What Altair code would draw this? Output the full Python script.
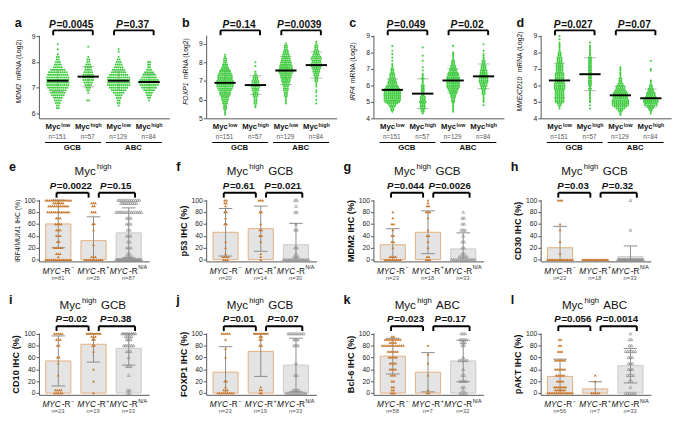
import altair as alt
import pandas as pd

FONT = "Liberation Sans, Arial, Helvetica, sans-serif"
GREEN = "#3ccc3c"
ORANGE = "#c8782d"
BAR_FILL = "#e4e4e4"
EDGE_MYC = "#e6ad78"
EDGE_NA = "#c9c9c9"
OPEN_GRAY = "#8f8f8f"
ERR_C = "#8a8a8a"
SD_C = "#b5b5b5"
AXIS_C = "#555555"
TXT = "#111111"
NCOL = "#555555"

# ===================== data: mRNA panels (a-d) =====================
MRNA_SUP = ["low", "high", "low", "high"]
MRNA_N = [151, 57, 129, 84]
SUBTYPES = ["GCB", "ABC"]
MRNA_STEP = 0.1

MDM2_P = ["0.0045", "0.37"]
MDM2_MEAN = [7.27, 7.43, 7.27, 7.22]
MDM2_SD = [0.42, 0.40, 0.38, 0.33]
MDM2_START = [6.2, 6.5, 6.3, 6.5]
MDM2_COUNTS = [
    [2, 2, 3, 4, 5, 7, 8, 9, 11, 12, 14, 14, 12, 11, 10, 8, 5, 4, 3, 2, 2, 1, 0, 1, 0, 1],
    [2, 0, 0, 1, 2, 3, 4, 5, 6, 6, 6, 5, 4, 4, 3, 2, 2, 1, 0, 0, 0, 1],
    [1, 2, 2, 3, 4, 6, 8, 10, 12, 14, 13, 12, 10, 8, 7, 5, 4, 3, 2, 1, 0, 1, 1],
    [1, 2, 3, 4, 6, 8, 10, 11, 10, 8, 7, 5, 3, 2, 2, 2],
]

FOXP1_P = ["0.14", "0.0039"]
FOXP1_MEAN = [6.90, 6.78, 7.56, 7.85]
FOXP1_SD = [0.65, 0.50, 0.75, 0.70]
FOXP1_START = [5.2, 5.6, 5.8, 5.8]
FOXP1_COUNTS = [
    [1, 1, 1, 2, 2, 2, 3, 3, 4, 4, 5, 6, 6, 7, 8, 9, 9, 9, 9, 8, 8, 8, 7, 6, 5, 4, 3, 3, 2, 2, 2, 1, 1],
    [1, 1, 2, 2, 2, 2, 3, 3, 3, 4, 4, 5, 5, 4, 4, 3, 3, 2, 1, 1, 0, 0, 1, 0, 1],
    [1, 1, 1, 1, 2, 2, 2, 3, 3, 3, 4, 4, 5, 5, 6, 6, 7, 8, 8, 7, 7, 6, 6, 5, 5, 4, 4, 3, 3, 2, 2, 2, 1],
    [1, 0, 1, 0, 1, 0, 1, 1, 0, 1, 1, 1, 2, 2, 2, 3, 3, 4, 4, 5, 6, 6, 5, 5, 6, 5, 4, 3, 3, 2, 2, 2, 1, 1],
]

IRF4_P = ["0.049", "0.02"]
IRF4_MEAN = [5.73, 5.50, 6.30, 6.55]
IRF4_SD = [0.65, 0.90, 0.70, 0.75]
IRF4_START = [4.4, 4.3, 4.4, 4.8]
IRF4_COUNTS = [
    [1, 2, 2, 3, 4, 6, 8, 9, 9, 9, 9, 9, 9, 9, 8, 7, 6, 5, 5, 4, 4, 3, 3, 3, 2, 2, 2, 1, 1, 1, 0, 1, 0, 1, 0, 1, 0, 1, 0, 0, 1],
    [1, 2, 2, 3, 3, 3, 3, 4, 3, 3, 3, 2, 2, 2, 2, 2, 2, 2, 1, 1, 1, 2, 1, 1, 1, 0, 1, 0, 1, 0, 0, 0, 1, 0, 0, 1, 0, 0, 0, 0, 1],
    [1, 1, 1, 1, 1, 1, 2, 2, 2, 3, 3, 4, 4, 5, 6, 7, 7, 7, 7, 7, 7, 7, 6, 6, 5, 4, 4, 3, 3, 2, 2, 2, 1, 1, 1, 1, 1, 0, 0, 0, 1],
    [1, 0, 1, 1, 1, 1, 1, 2, 2, 2, 3, 3, 4, 4, 5, 5, 5, 5, 5, 4, 4, 4, 3, 3, 3, 2, 2, 2, 1, 1, 1, 1, 0, 1, 0, 0, 0, 1],
]

MME_P = ["0.027", "0.07"]
MME_MEAN = [6.30, 6.68, 5.40, 5.22]
MME_SD = [1.05, 1.00, 0.55, 0.55]
MME_START = [4.6, 4.6, 4.2, 4.3]
MME_COUNTS = [
    [1, 1, 2, 3, 5, 5, 5, 5, 5, 5, 5, 5, 6, 6, 6, 6, 5, 5, 5, 5, 5, 5, 4, 4, 4, 4, 4, 4, 3, 3, 3, 3, 2, 2, 2, 1, 1, 1, 1, 1, 1, 0, 1, 0, 1],
    [1, 0, 1, 0, 1, 1, 1, 1, 1, 1, 1, 1, 2, 1, 2, 2, 2, 2, 2, 2, 2, 2, 2, 2, 2, 2, 2, 2, 2, 2, 2, 2, 1, 1, 1, 1, 1, 1, 1, 0, 1],
    [1, 1, 2, 3, 5, 7, 9, 9, 9, 9, 8, 8, 7, 8, 7, 6, 5, 5, 4, 3, 2, 2, 2, 1, 1, 1, 1, 1, 1, 1],
    [1, 1, 2, 3, 4, 7, 7, 8, 8, 7, 6, 5, 5, 4, 3, 3, 2, 2, 1, 1, 1, 0, 0, 0, 0, 0, 1, 1, 0, 0, 0, 0, 1],
]

# ===================== data: IHC panels (e-l) =====================
IHC_SUP = ["\u2212", "+", "N/A"]

E_P = ["0.0022", "0.15"]
E_N = [81, 25, 87]
E_MEAN = [60, 32, 45]
E_SD = [40, 40, 42]
E_VALUES = [[100, 95, 90, 80, 70, 60, 50, 40, 30, 20, 10, 5, 0], [95, 90, 80, 60, 50, 25, 5, 0],
            [100, 95, 80, 70, 60, 50, 40, 30, 20, 10, 5, 0]]
E_COUNTS = [[14, 6, 11, 12, 3, 4, 3, 3, 2, 5, 3, 1, 14], [3, 2, 3, 2, 1, 1, 3, 10],
            [12, 9, 14, 3, 3, 2, 3, 2, 3, 2, 4, 30]]

F_P = ["0.61", "0.021"]
F_N = [20, 14, 30]
F_MEAN = [46, 52, 25]
F_SD = [40, 38, 36]
F_VALUES = [[100, 95, 90, 80, 70, 60, 30, 20, 10, 5, 0], [100, 80, 60, 50, 40, 30, 10, 5, 0],
            [100, 90, 80, 60, 50, 20, 10, 5, 0]]
F_COUNTS = [[2, 2, 1, 2, 1, 2, 1, 1, 1, 4, 3], [3, 2, 1, 2, 2, 1, 1, 1, 1], [2, 1, 2, 1, 2, 2, 1, 3, 16]]

G_P = ["0.044", "0.0026"]
G_N = [23, 18, 33]
G_MEAN = [25, 46, 18]
G_SD = [27, 36, 27]
G_VALUES = [[80, 70, 60, 50, 40, 30, 20, 5, 0], [100, 95, 90, 80, 70, 50, 40, 30, 20, 5, 0],
            [80, 70, 60, 50, 40, 30, 20, 10, 5, 0]]
G_COUNTS = [[1, 1, 2, 1, 2, 2, 1, 4, 9], [1, 1, 2, 3, 1, 1, 2, 1, 1, 2, 3], [1, 2, 2, 3, 1, 2, 2, 2, 5, 13]]

H_P = ["0.03", "0.32"]
H_N = [23, 18, 33]
H_MEAN = [20, 0, 5]
H_SD = [36, 0, 18]
H_VALUES = [[100, 60, 50, 30, 10, 0], [0], [100, 50, 0]]
H_COUNTS = [[3, 1, 1, 1, 1, 16], [18], [1, 1, 31]]

I_P = ["0.02", "0.38"]
I_N = [23, 19, 33]
I_MEAN = [54, 82, 75]
I_SD = [42, 30, 28]
I_VALUES = [[100, 90, 80, 60, 50, 30, 5, 0], [100, 95, 90, 80, 70, 40, 20, 0],
            [100, 95, 90, 80, 70, 60, 45, 30, 5, 0]]
I_COUNTS = [[5, 3, 2, 2, 1, 1, 4, 5], [8, 3, 2, 2, 1, 1, 1, 1], [8, 4, 3, 6, 3, 1, 3, 1, 2, 2]]

J_P = ["0.01", "0.07"]
J_N = [23, 19, 33]
J_MEAN = [35, 70, 47]
J_SD = [43, 42, 45]
J_VALUES = [[100, 90, 75, 60, 20, 10, 5, 0], [100, 95, 90, 80, 10, 5, 0], [100, 90, 80, 50, 30, 5, 0]]
J_COUNTS = [[5, 1, 1, 1, 2, 1, 3, 9], [8, 2, 2, 2, 1, 2, 2], [9, 3, 3, 1, 2, 4, 11]]

K_P = ["0.023", "0.17"]
K_N = [58, 7, 32]
K_MEAN = [62, 35, 54]
K_SD = [30, 33, 35]
K_VALUES = [[95, 90, 85, 80, 70, 60, 50, 40, 30, 20, 10, 5, 0], [80, 65, 50, 30, 5, 0],
            [100, 90, 85, 80, 60, 55, 40, 30, 20, 10, 5, 0]]
K_COUNTS = [[2, 9, 4, 12, 6, 5, 4, 4, 3, 2, 2, 2, 3], [1, 1, 1, 1, 1, 2], [3, 4, 3, 2, 1, 5, 1, 2, 4, 2, 1, 4]]

L_P = ["0.056", "0.0014"]
L_N = [56, 7, 33]
L_MEAN = [28, 7, 46]
L_SD = [29, 12, 29]
L_VALUES = [[90, 80, 70, 55, 40, 30, 20, 10, 5, 0], [30, 20, 0], [100, 90, 80, 70, 60, 50, 40, 30, 20, 10, 0]]
L_COUNTS = [[2, 2, 3, 6, 6, 5, 4, 7, 6, 15], [1, 1, 5], [1, 2, 2, 6, 3, 3, 3, 4, 2, 1, 6]]

# ===================== helpers (layout only) =====================
CW = {c: 556 for c in "0123456789"}
CW.update(dict(A=667, B=667, C=722, D=722, E=667, F=611, G=778, H=722, I=278, J=500, K=667, L=556, M=833,
               N=722, O=778, P=667, Q=778, R=722, S=667, T=611, U=722, V=667, W=944, X=667, Y=667, Z=611))
CW.update(dict(a=556, b=556, c=500, d=556, e=556, f=278, g=556, h=556, i=222, j=222, k=500, l=222, m=833,
               n=556, o=556, p=556, q=556, r=333, s=500, t=278, u=556, v=500, w=722, x=500, y=500, z=500))
CW.update({" ": 278, "=": 584, ".": 278, "-": 333, "\u2212": 584, "+": 584, "/": 278, "(": 333, ")": 333, "%": 889})

ONE = pd.DataFrame({"k": [0]})


def tw(s, size, bold=False):
    return sum(CW.get(c, 556) for c in s) / 1000.0 * size * (1.1 if bold else 1.06)


def rich(center, segs, ppu):
    """segs: (key, text, size, bold); key '_' is a blank gap of `size` px."""
    ws = [(s if k == "_" else tw(t, s, b)) for k, t, s, b in segs]
    x = -sum(ws) / 2.0
    out = []
    for (k, t, s, b), w in zip(segs, ws):
        if k != "_":
            out.append({"k": k, "t": t, "x": center + x / ppu})
        x += w
    return out


def spread(c, ppu, s=2.0, maxw=22.0):
    sp = s if c <= 1 else min(s, maxw / (c - 1))
    return [(j - (c - 1) / 2.0) * sp / ppu for j in range(c)]


def text_layer(rows, key, X, y, size, weight="normal", style="normal", color=TXT):
    df = pd.DataFrame([r for r in rows if r["k"] == key])
    return alt.Chart(df).mark_text(font=FONT, fontSize=size, fontWeight=weight, fontStyle=style, color=color,
                                   align="left", baseline="middle").encode(x=X("x"), y=alt.value(y), text="t:N")


def bounds_layers(L, R, top, bottom):
    a = alt.Chart(ONE).mark_rule(color="white", strokeWidth=0.5).encode(
        x=alt.value(-L), x2=alt.value(R), y=alt.value(-top))
    b = alt.Chart(ONE).mark_rule(color="white", strokeWidth=0.5).encode(
        x=alt.value(-L), x2=alt.value(R), y=alt.value(bottom))
    return [a, b]


def letter_layer(letter, x, y):
    return alt.Chart(ONE).mark_text(font=FONT, fontSize=13, fontWeight="bold", color=TXT, align="left",
                                    baseline="middle").encode(x=alt.value(x), y=alt.value(y), text=alt.value(letter))


def pvalue_layers(pairs, pvals, X, ppu, y_text, y_line, y_tip, fs=10):
    rows, br, tips = [], [], []
    for (xa, xb), p in zip(pairs, pvals):
        cx = (xa + xb) / 2.0
        rows += rich(cx, [("P", "P", fs, True), ("v", "=" + p, fs, True)], ppu)
        br.append({"xa": xa, "xb": xb})
        tips += [{"x": xa}, {"x": xb}]
    out = [
        alt.Chart(pd.DataFrame(br)).mark_rule(color="black", strokeWidth=2).encode(
            x=X("xa"), x2=alt.X2("xb"), y=alt.value(y_line)),
        alt.Chart(pd.DataFrame(tips)).mark_rule(color="black", strokeWidth=2).encode(
            x=X("x"), y=alt.value(y_line), y2=alt.value(y_tip)),
        text_layer(rows, "P", X, y_text, fs, "bold", "italic"),
        text_layer(rows, "v", X, y_text, fs, "bold"),
    ]
    return out


# ===================== panel builders =====================
def mrna_panel(letter, gene, ydom, yticks, starts, counts, means, sds, pvals):
    W, H, L, R, TOP, BOT = 135, 86, 25, 140, 20, 41
    X0, X1 = 0.38, 4.67
    ppu = W / (X1 - X0)
    xs = alt.Scale(domain=[X0, X1], nice=False, zero=False)
    ys = alt.Scale(domain=ydom, nice=False, zero=False)
    xax = alt.Axis(labels=False, ticks=False, title=None, grid=False, domainColor=AXIS_C)
    yax = alt.Axis(values=yticks, format="d", title=None, grid=False, tickSize=3, tickColor=AXIS_C,
                   domainColor=AXIS_C, labelFontSize=7, labelColor="#222", labelPadding=1, labelFont=FONT)

    def X(f):
        return alt.X(f, type="quantitative", scale=xs, axis=xax)

    def Y(f):
        return alt.Y(f, type="quantitative", scale=ys, axis=yax)

    pos = [1, 2, 3, 4]
    layers = bounds_layers(L, R, TOP, H + BOT)

    # SD whiskers (light gray, behind dots)
    sd = pd.DataFrame({"x": pos, "lo": [m - s for m, s in zip(means, sds)], "hi": [m + s for m, s in zip(means, sds)]})
    caps = []
    for p, m, s in zip(pos, means, sds):
        for v in (m - s, m + s):
            caps.append({"xa": p - 6 / ppu, "xb": p + 6 / ppu, "y": v})
    layers.append(alt.Chart(sd).mark_rule(color=SD_C, strokeWidth=1).encode(x=X("x"), y=Y("lo"), y2=alt.Y2("hi")))
    layers.append(alt.Chart(pd.DataFrame(caps)).mark_rule(color=SD_C, strokeWidth=1).encode(
        x=X("xa"), x2=alt.X2("xb"), y=Y("y")))

    # beeswarm dots
    pts = []
    for g in range(4):
        for i, c in enumerate(counts[g]):
            v = round(starts[g] + MRNA_STEP * i, 2)
            for off in spread(c, ppu):
                pts.append({"x": pos[g] + off, "y": v})
    layers.append(alt.Chart(pd.DataFrame(pts)).mark_circle(size=4.5, color=GREEN, opacity=1).encode(
        x=X("x"), y=Y("y")))

    # mean lines
    ml = pd.DataFrame({"xa": [p - 11 / ppu for p in pos], "xb": [p + 11 / ppu for p in pos], "y": means})
    layers.append(alt.Chart(ml).mark_rule(color="black", strokeWidth=2).encode(x=X("xa"), x2=alt.X2("xb"), y=Y("y")))

    # brackets + P values
    pairs = [(1 - 0.15, 2 + 0.15), (3 - 0.15, 4 + 0.15)]
    layers += pvalue_layers(pairs, pvals, X, ppu, -10.5, -5, 0, fs=10.5)

    # letter
    layers.append(letter_layer(letter, -L, -12))

    # y title (gene italic + rest), reading bottom-to-top
    rest = "mRNA (Log2)"
    w1, gap, w2 = tw(gene, 7), 2.2, tw(rest, 7)
    bottom = H / 2.0 - 7 + (w1 + gap + w2) / 2.0
    layers.append(alt.Chart(ONE).mark_text(font=FONT, fontSize=7, fontStyle="italic", color=TXT, align="left",
                                           baseline="middle", angle=270).encode(
        x=alt.value(-21), y=alt.value(bottom), text=alt.value(gene)))
    layers.append(alt.Chart(ONE).mark_text(font=FONT, fontSize=7, color=TXT, align="left",
                                           baseline="middle", angle=270).encode(
        x=alt.value(-21), y=alt.value(bottom - w1 - gap), text=alt.value(rest)))

    # x labels
    rows = []
    for p, sup, n in zip(pos, MRNA_SUP, MRNA_N):
        rows += rich(p, [("M", "Myc", 8, True), ("S", sup, 5.5, True)], ppu)
        rows += rich(p, [("N", "n=%d" % n, 6.5, False)], ppu)
    sub_rows = []
    for k, sname in enumerate(SUBTYPES):
        c = (pos[2 * k] + pos[2 * k + 1]) / 2.0
        sub_rows += rich(c, [("B", sname, 8, True)], ppu)
    layers.append(text_layer(rows, "M", X, H + 9.5, 8, "bold"))
    layers.append(text_layer(rows, "S", X, H + 6.5, 5.5, "bold"))
    layers.append(text_layer(rows, "N", X, H + 19, 6.5, color=NCOL))
    layers.append(text_layer(sub_rows, "B", X, H + 30.5, 8, "bold"))
    ul = pd.DataFrame({"xa": [pos[0] - 0.42, pos[2] - 0.42], "xb": [pos[1] + 0.42, pos[3] + 0.42]})
    layers.append(alt.Chart(ul).mark_rule(color="black", strokeWidth=1.2).encode(
        x=X("xa"), x2=alt.X2("xb"), y=alt.value(H + 25)))

    return alt.layer(*layers).properties(width=W, height=H)


def ihc_panel(letter, subtype, ytitle, tbold, values, counts, means, sds, ns, pvals, H, BOT):
    W, L, R, TOP = 114, 31, 134, 41
    X0, X1 = 0.45, 3.58
    ppu = W / (X1 - X0)
    xs = alt.Scale(domain=[X0, X1], nice=False, zero=False)
    ys = alt.Scale(domain=[-3, 101], nice=False, zero=False)
    xax = alt.Axis(labels=False, ticks=False, title=None, grid=False, domainColor=AXIS_C)
    yax = alt.Axis(values=[0, 20, 40, 60, 80, 100], format="d", title=ytitle, titleFont=FONT,
                   titleFontSize=9.5 if tbold else 7, titleFontWeight="bold" if tbold else "normal",
                   titleColor=TXT, titlePadding=3, grid=False, tickSize=3, tickColor=AXIS_C,
                   domainColor=AXIS_C, labelFontSize=7, labelColor="#222", labelPadding=1, labelFont=FONT)

    def X(f):
        return alt.X(f, type="quantitative", scale=xs, axis=xax)

    def Y(f):
        return alt.Y(f, type="quantitative", scale=ys, axis=yax)

    pos = [1, 2, 3]
    hw = 13 / ppu
    layers = bounds_layers(L, R, TOP, H + BOT)

    bars = pd.DataFrame({"xa": [p - hw for p in pos], "xb": [p + hw for p in pos], "m": means, "z": [0, 0, 0],
                         "sc": [EDGE_MYC, EDGE_MYC, EDGE_NA]})
    layers.append(alt.Chart(bars).mark_bar(fill=BAR_FILL, strokeWidth=1).encode(
        x=X("xa"), x2=alt.X2("xb"), y=Y("m"), y2=alt.Y2("z"), stroke=alt.Stroke("sc:N", scale=None)))

    err, caps = [], []
    for p, m, s in zip(pos, means, sds):
        if s <= 0:
            continue
        lo, hi = max(0, m - s), min(100, m + s)
        err.append({"x": p, "lo": lo, "hi": hi})
        caps.append({"xa": p - 7 / ppu, "xb": p + 7 / ppu, "y": hi})
        if m - s > 0.5:
            caps.append({"xa": p - 7 / ppu, "xb": p + 7 / ppu, "y": lo})
    layers.append(alt.Chart(pd.DataFrame(err)).mark_rule(color=ERR_C, strokeWidth=1).encode(
        x=X("x"), y=Y("lo"), y2=alt.Y2("hi")))
    layers.append(alt.Chart(pd.DataFrame(caps)).mark_rule(color=ERR_C, strokeWidth=1).encode(
        x=X("xa"), x2=alt.X2("xb"), y=Y("y")))

    pts_o, pts_g = [], []
    for g in range(3):
        for v, c in zip(values[g], counts[g]):
            for off in spread(c, ppu, s=2.0, maxw=26.0):
                (pts_g if g == 2 else pts_o).append({"x": pos[g] + off, "y": v})
    layers.append(alt.Chart(pd.DataFrame(pts_o)).mark_point(shape="triangle-up", filled=True, size=9,
                                                            color=ORANGE, opacity=1).encode(x=X("x"), y=Y("y")))
    layers.append(alt.Chart(pd.DataFrame(pts_g)).mark_point(shape="triangle-up", filled=False, size=9,
                                                            color=OPEN_GRAY, strokeWidth=0.7, opacity=1).encode(
        x=X("x"), y=Y("y")))

    pairs = [(1 - 0.05, 2 - 0.14), (2 + 0.15, 3 + 0.18)]
    layers += pvalue_layers(pairs, pvals, X, ppu, -14, -7, -2, fs=10)

    # title: Myc^high [GCB|ABC]
    segs = [("T", "Myc", 12, False), ("U", "high", 8, False)]
    if subtype:
        segs += [("_", "", 3.5, False), ("T", subtype, 12, False)]
    trows = rich(2, segs, ppu)
    layers.append(text_layer(trows, "T", X, -29, 12))
    layers.append(text_layer(trows, "U", X, -33.5, 8))

    layers.append(letter_layer(letter, -L, -34))

    rows = []
    for p, sup, n in zip(pos, IHC_SUP, ns):
        rows += rich(p, [("I", "MYC", 8.5, False), ("R", "-R", 8.5, False), ("S", sup, 5.5, False)], ppu)
        rows += rich(p, [("N", "n=%d" % n, 6, False)], ppu)
    layers.append(text_layer(rows, "I", X, H + 9.5, 8.5, style="italic"))
    layers.append(text_layer(rows, "R", X, H + 9.5, 8.5))
    layers.append(text_layer(rows, "S", X, H + 6, 5.5))
    layers.append(text_layer(rows, "N", X, H + 17, 6, color=NCOL))

    return alt.layer(*layers).properties(width=W, height=H)


panels = [
    mrna_panel("a", "MDM2", [5.8, 9.05], [6, 7, 8, 9], MDM2_START, MDM2_COUNTS, MDM2_MEAN, MDM2_SD, MDM2_P),
    mrna_panel("b", "FOXP1", [5, 9.45], [5, 6, 7, 8, 9], FOXP1_START, FOXP1_COUNTS, FOXP1_MEAN, FOXP1_SD, FOXP1_P),
    mrna_panel("c", "IRF4", [4, 9.05], [4, 5, 6, 7, 8, 9], IRF4_START, IRF4_COUNTS, IRF4_MEAN, IRF4_SD, IRF4_P),
    mrna_panel("d", "MME/CD10", [4, 9.05], [4, 5, 6, 7, 8, 9], MME_START, MME_COUNTS, MME_MEAN, MME_SD, MME_P),
    ihc_panel("e", "", "IRF4/MUM1 IHC (%)", False, E_VALUES, E_COUNTS, E_MEAN, E_SD, E_N, E_P, 64, 31),
    ihc_panel("f", "GCB", "p53 IHC (%)", True, F_VALUES, F_COUNTS, F_MEAN, F_SD, F_N, F_P, 64, 31),
    ihc_panel("g", "GCB", "MDM2 IHC (%)", True, G_VALUES, G_COUNTS, G_MEAN, G_SD, G_N, G_P, 64, 31),
    ihc_panel("h", "GCB", "CD30 IHC (%)", True, H_VALUES, H_COUNTS, H_MEAN, H_SD, H_N, H_P, 64, 31),
    ihc_panel("i", "GCB", "CD10 IHC (%)", True, I_VALUES, I_COUNTS, I_MEAN, I_SD, I_N, I_P, 64, 21),
    ihc_panel("j", "GCB", "FOXP1 IHC (%)", True, J_VALUES, J_COUNTS, J_MEAN, J_SD, J_N, J_P, 64, 21),
    ihc_panel("k", "ABC", "Bcl-6 IHC (%)", True, K_VALUES, K_COUNTS, K_MEAN, K_SD, K_N, K_P, 64, 21),
    ihc_panel("l", "ABC", "pAKT IHC (%)", True, L_VALUES, L_COUNTS, L_MEAN, L_SD, L_N, L_P, 64, 21),
]

chart = alt.concat(*panels, columns=4, spacing=0).properties(padding=0).configure_view(
    stroke=None).configure_axis(labelFont=FONT, titleFont=FONT)

chart.save("out.html", embed_options={"renderer": "svg", "actions": False})
